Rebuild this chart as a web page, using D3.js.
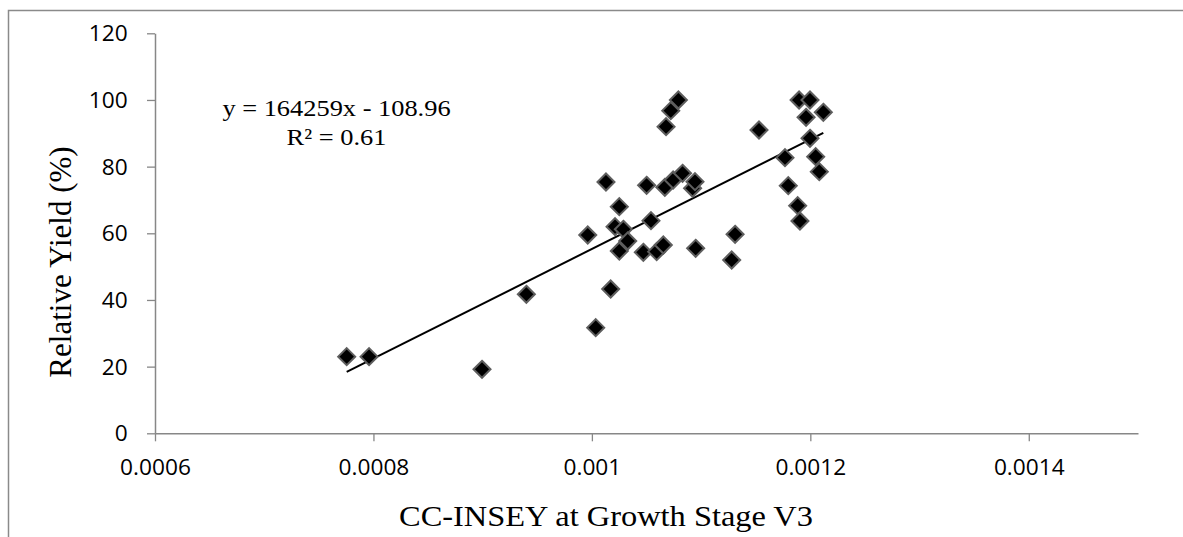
<!DOCTYPE html>
<html>
<head>
<meta charset="utf-8">
<script src="https://cdn.jsdelivr.net/npm/d3@7/dist/d3.min.js"></script>
<style>
  html, body { margin: 0; padding: 0; background: #fff; }
  svg { display: block; }
</style>
</head>
<body>
<svg id="chart" width="1183" height="537"></svg>
<script>
// CC-INSEY at V3 vs relative yield (%)
const ccInsey = [
  0.0007755, 0.000796, 0.0008994, 0.00094, 0.0009962, 0.0010035, 0.0010129,
  0.0010172, 0.0010212, 0.0010288, 0.0010251, 0.0010328, 0.0010251, 0.0010471,
  0.0010501, 0.0010541, 0.0010593, 0.0010654, 0.0010668, 0.0010679, 0.0010722,
  0.0010744, 0.0010792, 0.001083, 0.0010922, 0.0010944, 0.001095, 0.001128,
  0.0011311, 0.001153, 0.0011768, 0.0011798, 0.0011884, 0.0011897, 0.0011905,
  0.0011961, 0.0011997, 0.0011997, 0.0012049, 0.0012082, 0.0012119
];
const relYield = [
  23.0, 23.0, 19.2, 41.7, 59.5, 31.7, 75.4,
  43.3, 62.0, 61.2, 68.0, 57.7, 54.7, 54.3,
  74.4, 63.8, 54.5, 56.5, 73.8, 92.0, 96.8,
  76.0, 100.0, 78.0, 73.5, 75.5, 55.5, 52.0,
  59.7, 91.0, 82.7, 74.3, 68.3, 100.0, 63.7,
  94.8, 100.0, 88.5, 83.0, 78.5, 96.3
];
const xTickValues = [0.0006, 0.0008, 0.001, 0.0012, 0.0014];
const xTickLabels = ["0.0006", "0.0008", "0.001", "0.0012", "0.0014"];
const yTickValues = [0, 20, 40, 60, 80, 100, 120];
const yTickLabels = ["0", "20", "40", "60", "80", "100", "120"];

// linear trend: y = slope * x + intercept
const trendSlope = 164259;
const trendIntercept = -108.96;
const trendR2 = 0.61;

const svg = d3.select("#chart");
const axisColor = "#878787";
const tickFont = "'Open Sans', sans-serif";
const serifFont = "'Liberation Serif', 'Times New Roman', serif";
const stretch = 1.08;

const x = d3.scaleLinear().domain([0.0006, 0.0015]).range([155, 1138]);
const y = d3.scaleLinear().domain([0, 120]).range([433.3, 33.3]);

// outer chart frame
svg.append("rect")
  .attr("x", 8.5).attr("y", 10.5)
  .attr("width", 1300).attr("height", 700)
  .attr("fill", "none")
  .attr("stroke", "#8a8a8a")
  .attr("stroke-width", 1.5);

// x axis
const xAxis = svg.append("g")
  .attr("transform", `translate(0,${y(0)})`)
  .call(d3.axisBottom(x)
    .tickValues(xTickValues)
    .tickFormat((d, i) => xTickLabels[i])
    .tickSize(8)
    .tickSizeOuter(0));
xAxis.select(".domain").attr("stroke", axisColor).attr("stroke-width", 1.5);
xAxis.selectAll(".tick line").attr("stroke", axisColor).attr("stroke-width", 1.3);
xAxis.selectAll(".tick text")
  .attr("y", 41.7).attr("dy", 0)
  .attr("transform", `scale(${stretch},1)`)
  .attr("fill", "#000")
  .style("font-family", tickFont)
  .style("font-size", "21px");

// y axis
const yAxis = svg.append("g")
  .attr("transform", `translate(${x(0.0006)},0)`)
  .call(d3.axisLeft(y)
    .tickValues(yTickValues)
    .tickFormat((d, i) => yTickLabels[i])
    .tickSize(8)
    .tickSizeOuter(0));
yAxis.select(".domain").attr("stroke", axisColor).attr("stroke-width", 1.5);
yAxis.selectAll(".tick line").attr("stroke", axisColor).attr("stroke-width", 1.3);
yAxis.selectAll(".tick text")
  .attr("x", -27.3 / stretch).attr("dy", "0.36em")
  .attr("transform", `scale(${stretch},1)`)
  .attr("fill", "#000")
  .style("font-family", tickFont)
  .style("font-size", "21px");

// trend line across the observed x range
const [xMin, xMax] = d3.extent(ccInsey);
svg.append("line")
  .attr("x1", x(xMin)).attr("y1", y(trendSlope * xMin + trendIntercept))
  .attr("x2", x(xMax)).attr("y2", y(trendSlope * xMax + trendIntercept))
  .attr("stroke", "#000")
  .attr("stroke-width", 2);

// diamond markers
const pts = ccInsey.map((v, i) => ({ cx: v, ry: relYield[i] }));
const r = 8.5;
svg.append("g").selectAll("path")
  .data(pts)
  .join("path")
  .attr("transform", d => `translate(${x(d.cx)},${y(d.ry)})`)
  .attr("d", `M0,${-r}L${r},0L0,${r}L${-r},0Z`)
  .attr("fill", "#000")
  .attr("stroke", "#5e5e5e")
  .attr("stroke-width", 2);

// regression label
const eqCx = 336.5;
const eq = svg.append("g").style("font-family", serifFont).style("font-size", "24px").attr("fill", "#000");
eq.append("text")
  .attr("transform", `translate(${eqCx},116) scale(1.1,1)`)
  .attr("text-anchor", "middle")
  .text(`y = ${trendSlope}x - ${Math.abs(trendIntercept)}`);
eq.append("text")
  .attr("transform", `translate(${eqCx},145) scale(1.1,1)`)
  .attr("text-anchor", "middle")
  .text(`R² = ${trendR2}`);

// axis titles
svg.append("text")
  .attr("transform", "translate(606,526) scale(1.08,1)")
  .attr("text-anchor", "middle")
  .style("font-family", serifFont)
  .style("font-size", "30px")
  .attr("fill", "#000")
  .text("CC-INSEY at Growth Stage V3");

svg.append("text")
  .attr("transform", "translate(71,262) rotate(-90)")
  .attr("text-anchor", "middle")
  .style("font-family", serifFont)
  .style("font-size", "31px")
  .attr("fill", "#000")
  .text("Relative Yield (%)");
</script>
</body>
</html>
